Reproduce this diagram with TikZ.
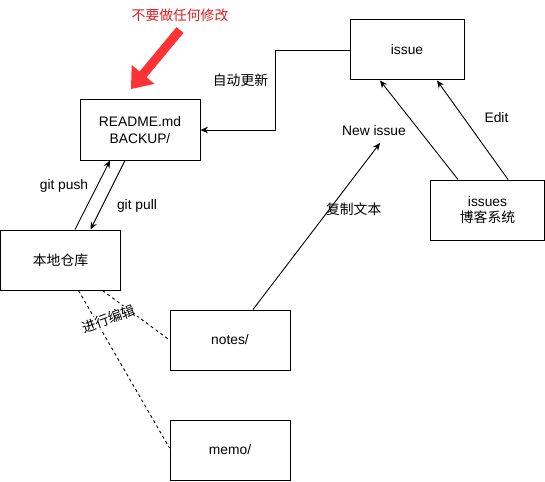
\documentclass[tikz,border=0pt]{standalone}
\usepackage{fontspec}
\setmainfont{Liberation Sans}
\newfontfamily\cjk{Noto Sans CJK SC}
\usetikzlibrary{arrows.meta,calc}
\definecolor{redarrow}{RGB}{255,51,51}
\definecolor{redtxt}{RGB}{222,28,28}
\begin{document}
\begin{tikzpicture}[x=1pt,y=-1pt,
  every node/.style={font=\fontsize{13.8}{16.6}\selectfont},
  box/.style={draw,line width=1pt,minimum width=120pt,minimum height=60pt,inner sep=0pt,align=center},
  conn/.style={line width=0.9pt},
  arr/.style={conn,-{Stealth[length=7.5pt,width=6.5pt,inset=2.5pt]}},
  dline/.style={line width=0.9pt,dash pattern=on 3pt off 3pt}]
\useasboundingbox (0,0) rectangle (545,481);
% boxes
\node[box] (readme) at (140,130) {README.md\\BACKUP/};
\node[box] (local) at (60.5,260) {\cjk 本地仓库};
\node[box] (notes) at (230,340) {notes/};
\node[box] (memo) at (230,450) {memo/};
\node[box,minimum width=114pt] (issue) at (407,50) {issue};
\node[box,minimum width=114pt] (issues) at (487.5,210) {issues\\{\cjk 博客系统}};
% red warning
\fill[redarrow] (183.5,32.9) -- (146.6,77.3) -- (154.5,83.9) -- (131,89) -- (131.7,65) -- (139.6,71.5) -- (176.5,27.1) -- cycle;
\node[text=redtxt] (warn) at (180,15) {\cjk 不要做任何修改};
% auto update
\coordinate (c1) at (275,50);
\draw[arr] (issue.west) -- (c1) |- (readme.east);
\node (autolbl) at (240.5,80) {\cjk 自动更新};
% git push / pull
\draw[arr] ([xshift=14.5pt]local.north) -- ([xshift=-30pt]readme.south);
\draw[arr] ([xshift=-15pt]readme.south) -- ([xshift=30pt]local.north);
\node (pushlbl) at (64,186) {git push};
\node (pulllbl) at (137,206) {git pull};
% issues -> issue
\draw[arr] ([xshift=-29.5pt]issues.north) -- ([xshift=-27pt]issue.south);
\draw[arr] ([xshift=20.5pt]issues.north) -- ([xshift=30pt]issue.south);
\node (editlbl) at (496.5,118) {Edit};
% new issue
\coordinate (ni) at (380,143);
\draw[arr] ([xshift=23pt]notes.north) -- (ni);
\node (newlbl) at (374,131) {New issue};
\node (copylbl) at (353.7,209.3) {\cjk 复制文本};
% editing
\draw[dline] ([xshift=42pt]local.south) -- (notes.west);
\draw[dline] ([xshift=18pt]local.south) -- ([yshift=2pt]memo.west);
\node[fill=white,rotate=20,inner sep=0.5pt] (editing) at (109,319) {\cjk 进行编辑};
\end{tikzpicture}
\end{document}
